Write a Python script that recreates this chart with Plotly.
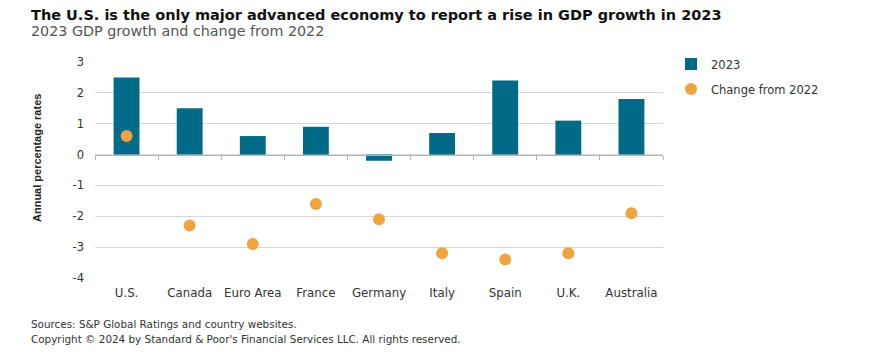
import plotly.graph_objects as go

categories = ["U.S.", "Canada", "Euro Area", "France", "Germany", "Italy", "Spain", "U.K.", "Australia"]
gdp_2023 = [2.5, 1.5, 0.6, 0.9, -0.2, 0.7, 2.4, 1.1, 1.8]
change_from_2022 = [0.6, -2.3, -2.9, -1.6, -2.1, -3.2, -3.4, -3.2, -1.9]
y_ticks = [3, 2, 1, 0, -1, -2, -3, -4]

W, H = 869, 360
OFF = 8  # page body margin offset
L, R, T, B = 95 - OFF, 206 + OFF, 62 - OFF, 82 + OFF
PW, PH = W - L - R, H - T - B
ymin, ymax = -4, 3
FONT = "DejaVu Sans"

fig = go.Figure()
fig.add_trace(go.Bar(
    x=categories, y=gdp_2023, name="2023",
    marker=dict(color="#006a87", line=dict(width=0)),
    width=0.41, legendgroup="a",
))
fig.add_trace(go.Scatter(
    x=categories, y=change_from_2022, name="Change from 2022", mode="markers",
    marker=dict(color="#f1a33f", size=12), legendgroup="b",
))
# invisible trace on an auxiliary axis to draw the zero line with boundary ticks
fig.add_trace(go.Scatter(x=categories, y=[None]*len(categories), xaxis="x2",
                         showlegend=False, hoverinfo="skip"))

zero_pos = (0 - ymin) / (ymax - ymin)

def px_x(x):
    return (x - OFF - L) / PW

def px_y(y):
    return 1 + (T - (y - OFF)) / PH

fig.update_layout(
    width=W, height=H,
    margin=dict(l=L, r=R, t=T, b=B, autoexpand=False),
    paper_bgcolor="white", plot_bgcolor="white",
    font=dict(family=FONT, color="#333333", size=11),
    showlegend=True,
    legend=dict(x=px_x(671), y=px_y(49.5), xanchor="left", yanchor="top",
                font=dict(size=11.5, color="#333333", family=FONT), traceorder="grouped",
                tracegroupgap=6, itemwidth=30, bgcolor="rgba(0,0,0,0)"),
    xaxis=dict(type="category", categoryorder="array", categoryarray=categories,
               range=[-0.5, len(categories) - 0.5], showgrid=False, showline=False,
               ticks="", ticklabelstandoff=6,
               tickfont=dict(size=11.8, color="#333333"), fixedrange=True),
    xaxis2=dict(type="category", categoryorder="array", categoryarray=categories,
                range=[-0.5, len(categories) - 0.5], overlaying="x", anchor="free",
                position=zero_pos, showline=True, linecolor="#b5b5b5", linewidth=1,
                ticks="outside", tickson="boundaries", ticklen=4, tickcolor="#b5b5b5",
                showticklabels=False, showgrid=False),
    yaxis=dict(range=[ymin, ymax], tickvals=y_ticks, ticktext=[str(v) for v in y_ticks],
               showgrid=True, gridcolor="#d6d6d6", gridwidth=1, zeroline=False,
               showline=False, ticks="", ticklabelstandoff=10,
               tickfont=dict(size=11.5, color="#333333")),
    bargap=0.59,
)

def note(text, y_px, size, color, bold=False):
    fig.add_annotation(text=f"<b>{text}</b>" if bold else text,
                       xref="paper", yref="paper", x=px_x(29), y=px_y(y_px),
                       xanchor="left", yanchor="middle", showarrow=False,
                       font=dict(size=size, color=color, family=FONT))

note("The U.S. is the only major advanced economy to report a rise in GDP growth in 2023", 15, 14.5, "#111111", bold=True)
note("2023 GDP growth and change from 2022", 31, 14.3, "#555555")
note("Sources: S&P Global Ratings and country websites.", 324, 10.4, "#333333")
note("Copyright © 2024 by Standard & Poor's Financial Services LLC. All rights reserved.", 339, 10.4, "#333333")

# y-axis title
fig.add_annotation(text="<b>Annual percentage rates</b>", textangle=-90,
                   xref="paper", yref="paper", x=px_x(37), y=px_y(158),
                   xanchor="center", yanchor="middle", showarrow=False,
                   font=dict(size=11, color="#222222", family="Liberation Sans Narrow, Liberation Sans"))

fig.write_html("out.html")
